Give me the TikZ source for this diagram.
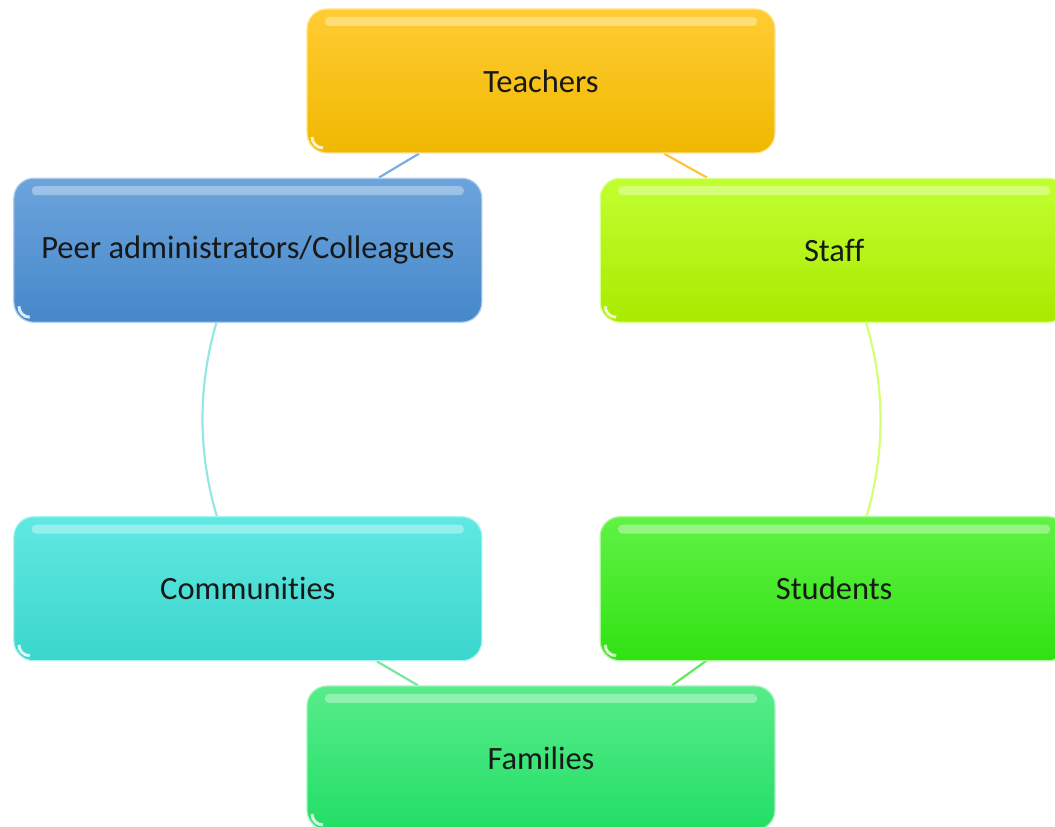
\documentclass[tikz,border=0pt]{standalone}
\usepackage{fontspec}
\setmainfont{Carlito}[Ligatures=NoCommon]
\usetikzlibrary{backgrounds,calc}
\definecolor{tTop}{RGB}{255,204,51}
\definecolor{tBot}{RGB}{240,184,0}
\definecolor{pTop}{RGB}{108,164,220}
\definecolor{pBot}{RGB}{70,136,202}
\definecolor{sTop}{RGB}{194,255,50}
\definecolor{sBot}{RGB}{168,234,0}
\definecolor{cTop}{RGB}{96,232,226}
\definecolor{cBot}{RGB}{58,214,204}
\definecolor{uTop}{RGB}{96,242,70}
\definecolor{uBot}{RGB}{48,226,18}
\definecolor{fTop}{RGB}{88,236,138}
\definecolor{fBot}{RGB}{34,222,102}
\definecolor{txt}{RGB}{24,24,24}
\definecolor{aTS}{RGB}{255,196,60}
\definecolor{aSU}{RGB}{214,255,120}
\definecolor{aUF}{RGB}{100,232,100}
\definecolor{aFC}{RGB}{120,232,160}
\definecolor{aCP}{RGB}{150,230,230}
\definecolor{aPT}{RGB}{120,174,226}
\begin{document}
\begin{tikzpicture}[x=1pt,y=1pt,
  boxstyle/.style={rounded corners=20pt, minimum width=468pt, minimum height=144pt,
    inner sep=0pt, text=txt, font=\fontsize{32.5}{38}\selectfont, line width=1.2pt,
    path picture={
      \fill[white,opacity=0.35,rounded corners=4pt]
        ([xshift=18pt,yshift=-8pt]path picture bounding box.north west) rectangle
        ([xshift=-18pt,yshift=-17pt]path picture bounding box.north east);
      \draw[white,opacity=0.8,line width=3pt]
        ([xshift=5pt,yshift=16pt]path picture bounding box.south west)
        arc[start angle=180,end angle=270,radius=11pt];}},
  conn/.style={line width=2.2pt}]
\useasboundingbox (0,0) rectangle (1055,827);
\clip (0,0) rectangle (1055,827);
\coordinate (C) at (541,407.5);
\node[boxstyle, top color=tTop, bottom color=tBot, draw=tTop!55!white] (T) at ($(C)+(90:338.5)$) {Teachers};
\node[boxstyle, top color=sTop, bottom color=sBot, draw=sTop!55!white] (S) at ($(C)+(30:338.5)$) {Staff};
\node[boxstyle, top color=uTop, bottom color=uBot, draw=uTop!55!white] (U) at ($(C)+(-30:338.5)$) {Students};
\node[boxstyle, top color=fTop, bottom color=fBot, draw=fTop!55!white] (F) at ($(C)+(-90:338.5)$) {Families};
\node[boxstyle, top color=cTop, bottom color=cBot, draw=cTop!55!white] (K) at ($(C)+(-150:338.5)$) {Communities};
\node[boxstyle, top color=pTop, bottom color=pBot, draw=pTop!55!white] (P) at ($(C)+(150:338.5)$) {Peer administrators/Colleagues};
\begin{scope}[on background layer]
\draw[conn, aPT] ($(T.south)+(-122,0)$) -- ($(P.north)+(131,0)$);
\draw[conn, aTS] ($(T.south)+(123,0)$) -- ($(S.north)+(-127,0)$);
\draw[conn, aSU] ($(S.south)+(32,0)$) arc[start angle=16.75, end angle=-16.75, radius=338pt];
\draw[conn, aUF] ($(U.north)+(0,-144)+(-127,0)$) -- ($(F.north)+(131,0)$);
\draw[conn, aFC] ($(F.north)+(-123,0)$) -- ($(K.south)+(129,0)$);
\draw[conn, aCP] ($(K.north)+(-31,0)$) arc[start angle=196.75, end angle=163.25, radius=338pt];
\end{scope}
\end{tikzpicture}
\end{document}
